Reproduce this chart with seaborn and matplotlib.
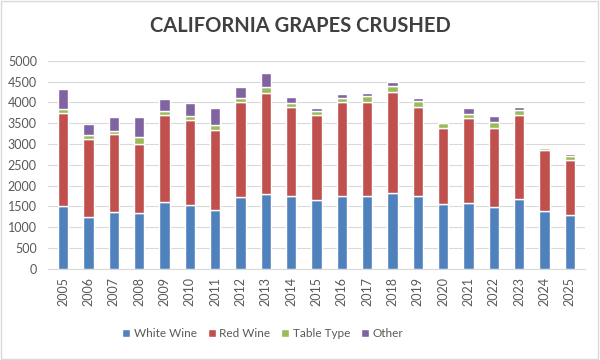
import matplotlib
matplotlib.use("Agg")
import matplotlib.pyplot as plt
import seaborn as sns
import pandas as pd
from matplotlib.patches import Rectangle

years = [str(y) for y in range(2005, 2026)]
white_wine = [1506, 1242, 1362, 1338, 1618, 1530, 1418, 1722, 1811, 1747, 1667,
              1747, 1747, 1827, 1747, 1570, 1595, 1482, 1683, 1386, 1298]
red_wine = [2244, 1883, 1883, 1667, 2076, 2044, 1915, 2300, 2420, 2155, 2027,
            2275, 2275, 2428, 2147, 1819, 2035, 1907, 2011, 1475, 1322]
table_type = [88, 96, 65, 176, 96, 104, 137, 97, 144, 88, 96,
              89, 129, 152, 152, 112, 96, 153, 136, 40, 104]
other = [481, 265, 352, 481, 288, 312, 400, 256, 337, 145, 80,
         96, 80, 88, 65, 41, 152, 128, 64, 40, 40]

series = {"White Wine": white_wine, "Red Wine": red_wine,
          "Table Type": table_type, "Other": other}
colors = {"White Wine": "#4F81BD", "Red Wine": "#C0504D",
          "Table Type": "#9BBB59", "Other": "#8064A2"}

sns.set_style("white")
plt.rcParams['font.family'] = ['Lato', 'DejaVu Sans']

fig = plt.figure(figsize=(6, 3.6), dpi=100)
ax = fig.add_axes([0.08, 0.253, 0.895, 0.578])

bottom = [0] * len(years)
for name, vals in series.items():
    df = pd.DataFrame({"Year": years, "Value": vals})
    sns.barplot(data=df, x="Year", y="Value", bottom=bottom, color=colors[name],
                width=0.4, ax=ax, label=name, saturation=1, zorder=3)
    bottom = [b + v for b, v in zip(bottom, vals)]

ax.set_ylim(0, 5000)
ax.set_yticks(range(0, 5001, 500))
ax.set_xlim(-0.6, len(years) - 0.4)
ax.yaxis.grid(True, color="#D9D9D9", linewidth=0.8, zorder=0)
ax.set_axisbelow(True)
for s in ["left", "right", "top"]:
    ax.spines[s].set_visible(False)
ax.spines["bottom"].set_color("#D9D9D9")
ax.tick_params(axis="both", length=0, labelsize=9, colors="#595959")
ax.tick_params(axis="x", rotation=90, pad=6)
ax.tick_params(axis="y", pad=8)
ax.set_xlabel("")
ax.set_ylabel("")

ax.legend(loc="upper center", bbox_to_anchor=(0.40, -0.235), ncol=4, frameon=False,
          fontsize=8.5, handlelength=0.7, handleheight=0.7, handletextpad=0.3,
          columnspacing=0.9, labelcolor="#595959")

fig.text(0.5, 0.927, "CALIFORNIA GRAPES CRUSHED", ha="center", va="center",
         fontsize=14.5, fontweight="bold", color="#404040")

fig.patches.append(Rectangle((0.002, 0.003), 0.995, 0.994, transform=fig.transFigure,
                             fill=False, edgecolor="#D9D9D9", linewidth=1))

fig.savefig("out.png", dpi=100)
